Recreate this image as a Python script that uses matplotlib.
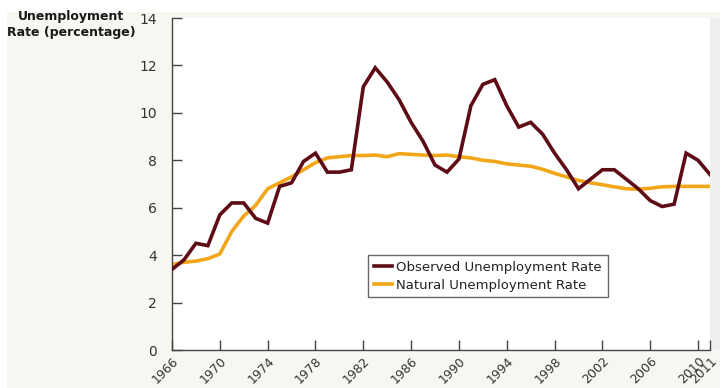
import matplotlib
matplotlib.use("Agg")
import matplotlib.pyplot as plt
from matplotlib.patches import Rectangle

years = list(range(1966, 2012))
observed = [3.4, 3.8, 4.5, 4.4, 5.7, 6.2, 6.2, 5.55, 5.35, 6.9, 7.05, 7.95, 8.3, 7.5, 7.5, 7.6,
            11.1, 11.9, 11.3, 10.55, 9.6, 8.8, 7.8, 7.5, 8.05, 10.3, 11.2, 11.4, 10.3, 9.4,
            9.6, 9.1, 8.3, 7.6, 6.8, 7.2, 7.6, 7.6, 7.2, 6.8, 6.3, 6.05, 6.15, 8.3, 8.0, 7.4]
natural = [3.6, 3.7, 3.75, 3.85, 4.05, 5.0, 5.65, 6.1, 6.8, 7.05, 7.3, 7.6, 7.9, 8.1, 8.15, 8.2,
           8.2, 8.22, 8.15, 8.28, 8.25, 8.22, 8.2, 8.22, 8.15, 8.1, 8.0, 7.95, 7.85, 7.8,
           7.75, 7.62, 7.45, 7.3, 7.15, 7.05, 6.97, 6.88, 6.8, 6.78, 6.82, 6.88, 6.9, 6.9, 6.9, 6.9]
xticks = [1966, 1970, 1974, 1978, 1982, 1986, 1990, 1994, 1998, 2002, 2006, 2010, 2011]
yticks = [0, 2, 4, 6, 8, 10, 12, 14]

W, H = 728, 388
fig = plt.figure(figsize=(W / 100, H / 100), dpi=100, facecolor="white")
bg = "#f7f6f1"
fig.patches.append(Rectangle((7 / W, 0), (720 - 7) / W, (H - 12) / H,
                             transform=fig.transFigure, facecolor=bg, edgecolor="none", zorder=-10))
fig.patches.append(Rectangle((710 / W, (H - 350) / H), 10 / W, (350 - 18) / H,
                             transform=fig.transFigure, facecolor="#efefef", edgecolor="none", zorder=-9))

ax = fig.add_axes([172 / W, (H - 350) / H, (710 - 172) / W, (350 - 18) / H])
ax.set_zorder(1)
ax.set_facecolor("white")
ax.plot(years, observed, color="#5e0c16", lw=2.6, solid_joinstyle="miter",
        label="Observed Unemployment Rate", zorder=3)
ax.plot(years, natural, color="#f2a71b", lw=2.6, solid_joinstyle="round",
        label="Natural Unemployment Rate", zorder=2)

ax.set_xlim(1966, 2011)
ax.set_ylim(0, 14)
ax.set_yticks(yticks)
ax.set_xticks(xticks)
ax.set_xticklabels([str(x) for x in xticks], rotation=45, ha="right", va="top",
                   rotation_mode="anchor")
for s in ["top", "right"]:
    ax.spines[s].set_visible(False)
for s in ["left", "bottom"]:
    ax.spines[s].set_color("#444444")
    ax.spines[s].set_linewidth(1.0)
ax.tick_params(axis="both", direction="in", length=7, width=1.0, color="#444444",
               labelsize=10, labelcolor="#333333")
ax.tick_params(axis="y", pad=11)
ax.tick_params(axis="x", pad=3, labelsize=9)

leg = ax.legend(loc="upper left", bbox_to_anchor=(368 / W, 1 - 255 / H),
                bbox_transform=fig.transFigure, fontsize=9.5, frameon=True, fancybox=False,
                handlelength=1.4, handletextpad=0.3, borderpad=0.45, labelspacing=0.35,
                borderaxespad=0)
leg.get_frame().set_edgecolor("#444444")
leg.get_frame().set_linewidth(1.0)
for t in leg.get_texts():
    t.set_color("#222222")

fig.text(71 / W, 1 - 10 / H, "Unemployment\nRate (percentage)", ha="center", va="top",
         multialignment="center", fontsize=9, fontweight="bold", color="#1a1a1a",
         linespacing=1.3)

fig.savefig("out.png", dpi=100, facecolor=fig.get_facecolor())
